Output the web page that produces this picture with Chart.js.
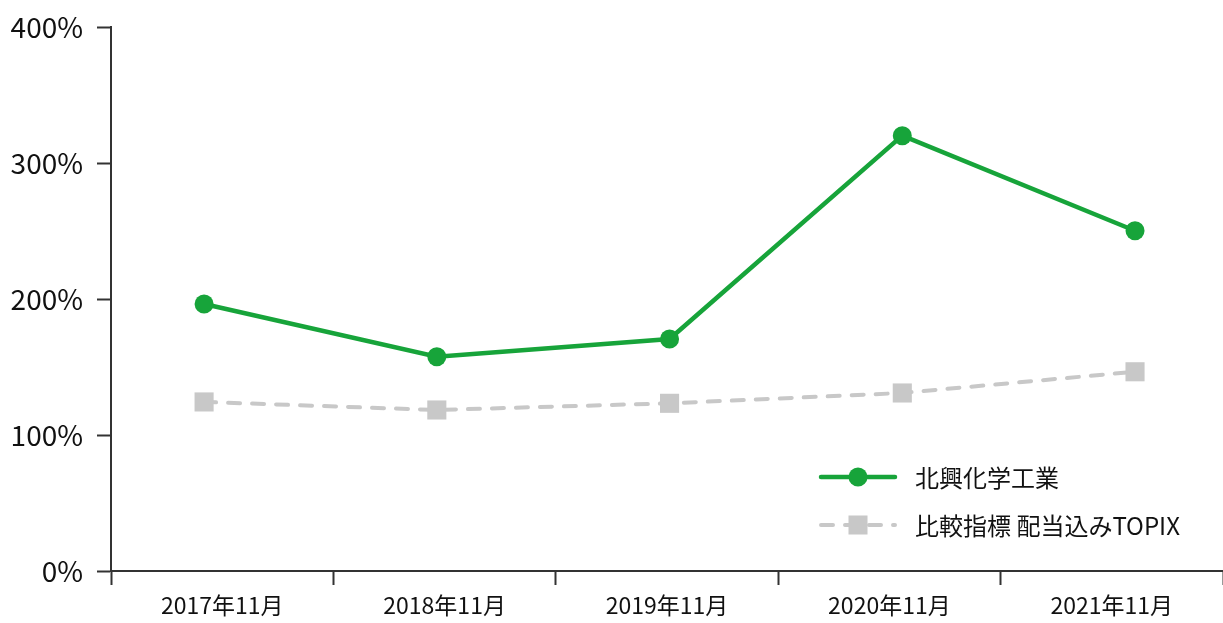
<!DOCTYPE html>
<html>
<head>
<meta charset="utf-8">
<script src="https://cdn.jsdelivr.net/npm/chart.js@4"></script>
<style>
  html, body { margin: 0; padding: 0; background: #fff; overflow: hidden; }
  #wrap { width: 1223px; height: 623px; }
</style>
</head>
<body>
<div id="wrap"><canvas id="tsrChart"></canvas></div>
<script>
const categories = ['2017年11月', '2018年11月', '2019年11月', '2020年11月', '2021年11月'];
const companyName = '北興化学工業';
const companyValues = [196.3, 157.6, 170.6, 320.1, 250.2];
const indexName = '比較指標 配当込みTOPIX';
const indexValues = [124.3, 118.4, 123.3, 130.9, 146.5];
const yTicks = [0, 100, 200, 300, 400];

const green = '#17a43a';
const gray = '#c8c8c8';
const axisColor = '#333333';
const fontFamily = '"Noto Sans CJK JP", "Noto Sans", sans-serif';

// legend drawn inside the plot, lower right
const legendInArea = {
    id: 'legendInArea',
    afterDraw(chart) {
        const ctx = chart.ctx;
        const items = [
            { ds: chart.data.datasets[0], y: 477 },
            { ds: chart.data.datasets[1], y: 525 }
        ];
        ctx.save();
        items.forEach(it => {
            const ds = it.ds;
            ctx.strokeStyle = ds.borderColor;
            ctx.lineWidth = ds.borderWidth;
            ctx.lineCap = 'round';
            ctx.setLineDash(ds.borderDash || []);
            ctx.beginPath();
            ctx.moveTo(821, it.y);
            ctx.lineTo(895, it.y);
            ctx.stroke();
            ctx.setLineDash([]);
            ctx.fillStyle = ds.pointBackgroundColor;
            if (ds.pointStyle === 'rect') {
                ctx.fillRect(858 - 9.5, it.y - 9.5, 19, 19);
            } else {
                ctx.beginPath();
                ctx.arc(858, it.y, 9.5, 0, Math.PI * 2);
                ctx.fill();
            }
            ctx.fillStyle = '#111';
            ctx.font = '24px ' + fontFamily;
            ctx.textBaseline = 'middle';
            ctx.textAlign = 'left';
            ctx.fillText(ds.label, 915, it.y + 1);
        });
        ctx.restore();
    }
};

const ctx = document.getElementById('tsrChart').getContext('2d');
new Chart(ctx, {
    type: 'line',
    data: {
        labels: categories,
        datasets: [{
            label: companyName,
            data: companyValues.map((v, i) => ({ x: i, y: v })),
            xAxisID: 'xp',
            borderColor: green,
            backgroundColor: green,
            pointBackgroundColor: green,
            pointBorderWidth: 0,
            borderWidth: 4.5,
            pointRadius: 9.5,
            pointStyle: 'circle',
            tension: 0
        }, {
            label: indexName,
            data: indexValues.map((v, i) => ({ x: i, y: v })),
            xAxisID: 'xp',
            borderColor: gray,
            backgroundColor: gray,
            pointBackgroundColor: gray,
            pointBorderWidth: 0,
            borderWidth: 4,
            borderDash: [12, 12],
            borderCapStyle: 'round',
            pointRadius: 13.5,
            pointStyle: 'rect',
            tension: 0
        }]
    },
    options: {
        responsive: true,
        maintainAspectRatio: false,
        animation: false,
        layout: {
            autoPadding: false,
            padding: { top: 27, right: 0, left: 0, bottom: 0 }
        },
        plugins: {
            legend: { display: false },
            tooltip: { enabled: false }
        },
        scales: {
            x: {
                type: 'category',
                offset: true,
                grid: {
                    offset: true,
                    drawOnChartArea: false,
                    tickLength: 14,
                    tickWidth: 2,
                    tickColor: axisColor
                },
                border: { color: axisColor, width: 2 },
                ticks: {
                    color: '#111',
                    font: { family: fontFamily, size: 23 },
                    padding: 6,
                    maxRotation: 0
                },
                afterFit(scale) {
                    scale.height = 52;
                    scale.paddingLeft = 0;
                    scale.paddingRight = 0;
                }
            },
            xp: {
                type: 'linear',
                display: false,
                min: -0.4,
                max: 4.378
            },
            y: {
                min: 0,
                max: 400,
                afterBuildTicks(scale) { scale.ticks = yTicks.map(v => ({ value: v })); },
                grid: {
                    drawOnChartArea: false,
                    tickLength: 14,
                    tickWidth: 2,
                    tickColor: axisColor
                },
                border: { color: axisColor, width: 2 },
                ticks: {
                    color: '#111',
                    font: { family: fontFamily, size: 28 },
                    padding: 14,
                    callback: v => v + '%'
                },
                afterFit(scale) {
                    scale.width = 111;
                    scale.paddingTop = 0;
                    scale.paddingBottom = 0;
                }
            }
        }
    },
    plugins: [legendInArea]
});
</script>
</body>
</html>
